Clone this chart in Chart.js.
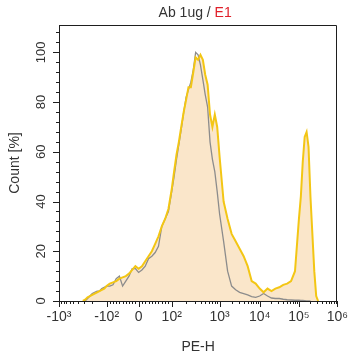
<!DOCTYPE html>
<html><head><meta charset="utf-8">
<script src="https://cdn.jsdelivr.net/npm/chart.js@4.4.1/dist/chart.umd.min.js"></script>
<style>html,body{margin:0;padding:0;background:#fff}</style>
</head><body>
<canvas id="c" width="356" height="360"></canvas>
<script>
// ---- data (PE-H bin values, count %) ; null = no events in that range ----
const xValues = [-1000,-700,-500,-398,-355,-316,-282,-251,-224,-200,-178,-158,-141,-126,-112,
  -100,-90,-80,-70,-60,-50,-40,-30,-20,-10,0,10,20,30,40,50,60,70,80,90,100,
  112,126,141,158,178,200,224,251,282,316,355,398,447,501,562,631,708,794,891,1000,
  1259,1585,1995,2512,3162,3981,5012,6310,7943,10000,
  12589,15849,19953,25119,31623,39811,50119,63096,79433,100000,
  112202,125893,141254,158489,177828,199526,223872,251189,281838,316228,
  398107,501187,630957,794328,1000000];
const isotypeCounts = [null,null,null,null,null,null,0,1,2,3,3.5,4,4,5,5.5,
  6,6,6.5,9,10,6,8,10,13,13,11.5,12.5,14,17,18,19.5,22,30,33,36,44,
  50,57,63,69,76,82,85,88,93,100,99,95,89,83,78,64,57,52,44,35,
  24,12,6,4.5,3.5,3,2.5,1.8,1.5,2,
  3,2,1.2,1,1,0.7,0.5,0.4,0.3,0.3,
  0.2,0.2,0.1,0,0,0,null,null,null,null,
  null,null,null,null,null];
const antibodyCounts = [null,null,null,null,null,0,0.5,1.5,2,2.5,3,3.5,4,4.5,5,
  6,7,7.5,8,9,9.5,10,11,12.5,14,13,14,16,18,20,23,26,30,33,37,45,
  52,59,64,70,76,81,86,86,92,98,97,99,97,91,87,75,70,75,70,58,
  40,33,27,24,21,18,14,8,7,5,
  3.5,5,4,5,5.5,6.5,7,8,12,33,
  42,56,66,68,62,42,27,12,2,0,
  null,null,null,null,null];
const xTickValues = [-1000,-100,0,100,1000,10000,100000,1000000];
const xTickLabels = ['-10\u00B3','-10\u00B2','0','10\u00B2','10\u00B3','10\u2074','10\u2075','10\u2076'];
const yTickValues = [0,20,40,60,80,100];
const titleMain = 'Ab 1ug / ';
const titleSample = 'E1';
const xTitle = 'PE-H';
const yTitle = 'Count [%]';

// ---- biexponential-like display scale ----
const biexAnchors = [-1000,-100,0,100,1000,10000,100000,1000000];
const biexFracs   = [0,0.171,0.286,0.405,0.577,0.721,0.862,1];
function segLog(a,b){ return Math.abs(a)>=100 && Math.abs(b)>=100 && a*b>0; }
function biexFrac(v){
  const A=biexAnchors,F=biexFracs;
  if (v<=A[0]) return F[0]+(v-A[0])/(A[1]-A[0])*(F[1]-F[0])*0.2;
  for (let i=0;i<A.length-1;i++){
    const a=A[i],b=A[i+1];
    if (v<=b){
      let t;
      if (segLog(a,b)) t=(Math.log10(Math.abs(v))-Math.log10(Math.abs(a)))/(Math.log10(Math.abs(b))-Math.log10(Math.abs(a)));
      else t=(v-a)/(b-a);
      return F[i]+t*(F[i+1]-F[i]);
    }
  }
  return 1;
}
function biexInv(f){
  const A=biexAnchors,F=biexFracs;
  for (let i=0;i<A.length-1;i++){
    if (f<=F[i+1] || i===A.length-2){
      const a=A[i],b=A[i+1];
      const t=(f-F[i])/(F[i+1]-F[i]);
      if (segLog(a,b)){
        const s=Math.sign(a);
        const la=Math.log10(Math.abs(a)),lb=Math.log10(Math.abs(b));
        return s*Math.pow(10,la+t*(lb-la));
      }
      return a+t*(b-a);
    }
  }
  return A[A.length-1];
}
class BiexScale extends Chart.LinearScale {
  buildTicks(){ return xTickValues.map(v=>({value:v})); }
  getPixelForValue(v){ return this.getPixelForDecimal(biexFrac(v)); }
  getValueForPixel(p){ return biexInv(this.getDecimalForPixel(p)); }
}
BiexScale.id='biex';
BiexScale.defaults={};
Chart.register(BiexScale);

const FONT='"Liberation Sans", Arial, sans-serif';
const TEXT='#333333';
const AXIS='#1e1e1e';

const decorPlugin={
  id:'decor',
  afterDraw(chart){
    const {ctx,chartArea:ca,scales:{x,y}}=chart;
    ctx.save();
    ctx.strokeStyle=AXIS; ctx.lineWidth=1;
    ctx.beginPath();
    ctx.moveTo(ca.left, Math.round(ca.top)+0.5);
    ctx.lineTo(Math.round(ca.right)-0.5, Math.round(ca.top)+0.5);
    ctx.lineTo(Math.round(ca.right)-0.5, ca.bottom);
    ctx.stroke();
    ctx.beginPath();
    for (let v=0; v<=108; v+=4){
      const py=Math.round(y.getPixelForValue(v))+0.5;
      const len=(v%20===0)?6:3;
      ctx.moveTo(ca.left-len,py); ctx.lineTo(ca.left,py);
    }
    xTickValues.forEach(v=>{
      const px=Math.round(x.getPixelForValue(v))+0.5;
      ctx.moveTo(px,ca.bottom); ctx.lineTo(px,ca.bottom+6);
    });
    const minors=[];
    for (let m=2;m<=9;m++) minors.push(-m*100);
    for (let m=1;m<=9;m++){ minors.push(-m*10); minors.push(m*10); }
    for (let d=100; d<1000000; d*=10) for (let m=2;m<=9;m++) minors.push(m*d);
    minors.forEach(v=>{
      const px=Math.round(x.getPixelForValue(v))+0.5;
      ctx.moveTo(px,ca.bottom); ctx.lineTo(px,ca.bottom+3);
    });
    ctx.stroke();
    ctx.fillStyle=TEXT;
    ctx.font='13px '+FONT;
    ctx.textAlign='center'; ctx.textBaseline='middle';
    yTickValues.forEach(v=>{
      const py=y.getPixelForValue(v);
      ctx.save(); ctx.translate(41,py); ctx.rotate(-Math.PI/2);
      ctx.fillText(String(v),0,0); ctx.restore();
    });
    ctx.font='14px '+FONT;
    ctx.textAlign='left';
    const w1=ctx.measureText(titleMain).width, w2=ctx.measureText(titleSample).width;
    const cx=(ca.left+ca.right)/2-3;
    const sx=cx-(w1+w2)/2;
    ctx.fillStyle=TEXT; ctx.fillText(titleMain,sx,13);
    ctx.fillStyle='#e0202a'; ctx.fillText(titleSample,sx+w1,13);
    ctx.restore();
  }
};

new Chart(document.getElementById('c'),{
  type:'line',
  data:{datasets:[
    {label:'E1', data:xValues.map((v,i)=>({x:v,y:antibodyCounts[i]})),
     borderColor:'#f3c614', borderWidth:2, backgroundColor:'rgb(250,230,202)',
     fill:'origin', pointRadius:0, tension:0, spanGaps:false, order:0},
    {label:'Isotype', data:xValues.map((v,i)=>({x:v,y:isotypeCounts[i]})),
     borderColor:'#8c8c8c', borderWidth:1.3, fill:false, pointRadius:0, tension:0, spanGaps:false, order:1}
  ]},
  options:{
    responsive:false, animation:false, events:[],
    layout:{padding:{top:25,right:18,left:0,bottom:0}},
    plugins:{legend:{display:false},tooltip:{enabled:false},filler:{drawTime:'beforeDatasetsDraw'}},
    scales:{
      x:{type:'biex', min:-1000, max:1000000,
         grid:{display:false, drawTicks:false},
         border:{display:true,color:AXIS,width:1},
         ticks:{padding:8, color:TEXT, font:{family:FONT,size:14}, maxRotation:0, autoSkip:false,
                callback:(v,i)=>xTickLabels[i]},
         title:{display:true,text:xTitle,color:TEXT,font:{family:FONT,size:14},padding:{top:0,bottom:4}},
         afterFit:s=>{s.height=59;}},
      y:{type:'linear', min:0, max:111,
         grid:{display:false, drawTicks:false},
         border:{display:true,color:AXIS,width:1},
         ticks:{display:false},
         title:{display:true,text:yTitle,color:TEXT,font:{family:FONT,size:14},padding:{top:7,bottom:0}},
         afterFit:s=>{s.width=59;}}
    }
  },
  plugins:[decorPlugin]
});
</script>
</body></html>
